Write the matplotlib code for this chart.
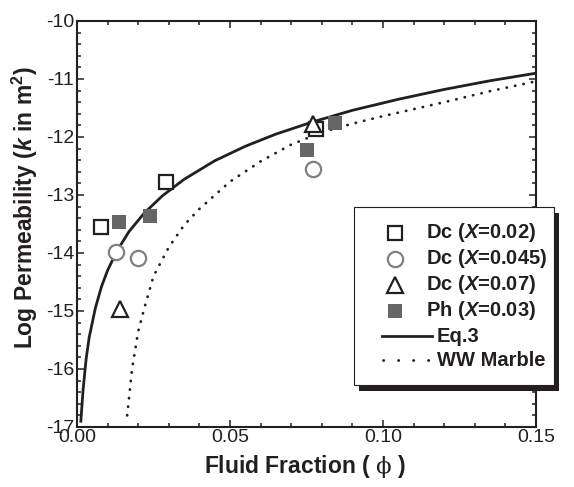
import matplotlib.pyplot as plt
from matplotlib.lines import Line2D
from matplotlib.patches import Rectangle
from matplotlib.ticker import MultipleLocator

plt.rcParams['font.family'] = 'Liberation Sans'
plt.rcParams['axes.unicode_minus'] = False
plt.rcParams['mathtext.fontset'] = 'custom'
plt.rcParams['mathtext.rm'] = 'DejaVu Serif'
plt.rcParams['mathtext.it'] = 'Liberation Sans:italic:bold'
plt.rcParams['mathtext.bf'] = 'Liberation Sans:bold'

INK = '#231f20'

# measured data (fluid fraction, log10 permeability)
dc02_phi = [0.0079, 0.029, 0.078]
dc02_logk = [-13.55, -12.77, -11.87]
dc045_phi = [0.0128, 0.0199, 0.0771]
dc045_logk = [-13.98, -14.09, -12.56]
dc07_phi = [0.0139, 0.0771]
dc07_logk = [-14.97, -11.78]
ph03_phi = [0.0138, 0.0239, 0.0752, 0.0842]
ph03_logk = [-13.47, -13.37, -12.22, -11.76]

# Eq.3 curve
eq3_phi = [0.00125, 0.002, 0.003, 0.004, 0.006, 0.008, 0.010, 0.013, 0.017,
           0.022, 0.028, 0.035, 0.045, 0.055, 0.065, 0.077, 0.090, 0.105,
           0.120, 0.135, 0.150]
eq3_logk = [-16.9, -16.35, -15.82, -15.45, -14.95, -14.58, -14.30, -13.97,
            -13.63, -13.31, -13.01, -12.73, -12.41, -12.16, -11.95, -11.74,
            -11.54, -11.35, -11.18, -11.03, -10.90]

# WW Marble curve
ww_phi = [0.0164, 0.0170, 0.018, 0.020, 0.022, 0.025, 0.030, 0.035, 0.040,
          0.050, 0.060, 0.070, 0.080, 0.090, 0.100, 0.110, 0.120, 0.135, 0.150]
ww_logk = [-16.8, -16.5, -16.0, -15.35, -14.95, -14.40, -13.90, -13.52,
           -13.24, -12.77, -12.42, -12.13, -11.92, -11.77, -11.64, -11.52,
           -11.40, -11.21, -11.04]

W, H = 574, 487


def px(x, y):
    return (x / W, 1 - y / H)


fig = plt.figure(figsize=(W / 100, H / 100), dpi=100)
ax = fig.add_axes([77 / W, 1 - 427 / H, (536 - 77) / W, (427 - 21) / H])

ax.plot(eq3_phi, eq3_logk, color=INK, lw=2.0, zorder=2)
ax.plot(ww_phi, ww_logk, color=INK, lw=2.0, linestyle=(0, (0.1, 3)),
        dash_capstyle='round', zorder=2)

sq = dict(marker='s', ms=10, mew=1.6, mec=INK, mfc='white', ls='none')
ci = dict(marker='o', ms=11, mew=1.6, mec='#808080', mfc='white', ls='none')
tr = dict(marker='^', ms=12, mew=1.6, mec=INK, mfc='white', ls='none')
fs = dict(marker='s', ms=10.5, mew=0, mfc='#666666', ls='none')

ax.plot(dc02_phi, dc02_logk, zorder=3, **sq)
ax.plot(dc045_phi, dc045_logk, zorder=3, **ci)
ax.plot(dc07_phi, dc07_logk, zorder=4, **tr)
ax.plot(ph03_phi, ph03_logk, zorder=5, **fs)

ax.set_xlim(0, 0.15)
ax.set_ylim(-17, -10)
ax.xaxis.set_minor_locator(MultipleLocator(0.01))
ax.yaxis.set_major_locator(MultipleLocator(1))
ax.yaxis.set_minor_locator(MultipleLocator(0.2))
ax.set_xticks([0, 0.05, 0.10, 0.15])
ax.set_xticklabels(['0.00', '0.05', '0.10', '0.15'])
ax.tick_params(which='both', direction='in', top=True, right=True,
               width=1.1, colors=INK, labelsize=14)
ax.tick_params(which='major', length=5, pad=1.5)
ax.tick_params(which='minor', length=3)
ax.tick_params(axis='y', pad=2)
for s in ax.spines.values():
    s.set_linewidth(1.5)
    s.set_color(INK)

# axis titles placed where the reference has them
fig.text(*px(305, 467), 'Fluid Fraction ( $\\mathrm{\\phi}$ )', fontsize=16.5,
         fontweight='bold', color=INK, ha='center', va='center')
fig.text(*px(25, 208), 'Log Permeability ($\\mathit{k}$ in m$^\\mathbf{2}$)',
         fontsize=16.5, fontweight='bold', color=INK, ha='center',
         va='center', rotation=90)

# legend box with heavy drop shadow, drawn over the right spine
x0, y0, x1, y1 = 354, 207, 554, 385
fig.patches.append(Rectangle(px(x0 + 5, y1 + 6), (x1 - x0) / W, (y1 - y0) / H,
                             transform=fig.transFigure, facecolor=INK,
                             edgecolor='none', zorder=5))
fig.patches.append(Rectangle(px(x0, y1), (x1 - x0) / W, (y1 - y0) / H,
                             transform=fig.transFigure, facecolor='white',
                             edgecolor=INK, lw=0.8, zorder=6))

rows = [233, 259, 285, 311, 336, 360]
labels = ['Dc ($\\mathit{X}$=0.02)', 'Dc ($\\mathit{X}$=0.045)',
          'Dc ($\\mathit{X}$=0.07)', 'Ph ($\\mathit{X}$=0.03)',
          'Eq.3', 'WW Marble']
styles = [sq, ci, tr, fs]
for y, st in zip(rows[:4], styles):
    fig.add_artist(Line2D([px(395, y)[0]], [px(395, y)[1]],
                          transform=fig.transFigure, zorder=7, **st))
fig.add_artist(Line2D([px(382, 0)[0], px(432, 0)[0]],
                      [px(0, rows[4])[1]] * 2, transform=fig.transFigure,
                      color=INK, lw=2.0, zorder=7))
fig.add_artist(Line2D([px(383, 0)[0], px(430, 0)[0]],
                      [px(0, rows[5])[1]] * 2, transform=fig.transFigure,
                      color=INK, lw=2.0, linestyle=(0, (0.1, 5.3)),
                      dash_capstyle='round', zorder=7))
for i, (y, lab) in enumerate(zip(rows, labels)):
    tx = 426 if i < 4 else 437
    fig.text(*px(tx, y), lab, fontsize=14.5, fontweight='bold', color=INK,
             ha='left', va='center', zorder=8)

fig.savefig('out.png', dpi=100)
